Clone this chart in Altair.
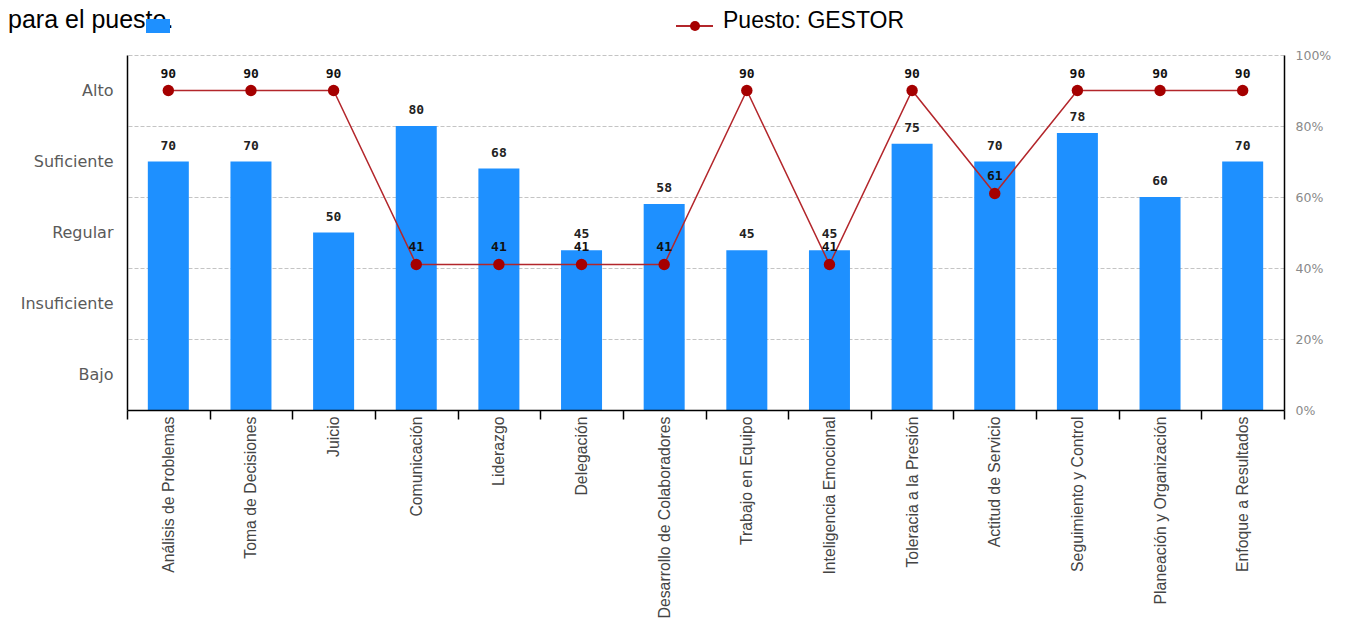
import altair as alt
import pandas as pd

categorias = [
    "Análisis de Problemas", "Toma de Decisiones", "Juicio", "Comunicación",
    "Liderazgo", "Delegación", "Desarrollo de Colaboradores", "Trabajo en Equipo",
    "Inteligencia Emocional", "Toleracia a la Presión", "Actitud de Servicio",
    "Seguimiento y Control", "Planeación y Organización", "Enfoque a Resultados",
]
valores_evaluado = [70, 70, 50, 80, 68, 45, 58, 45, 45, 75, 70, 78, 60, 70]
valores_puesto = [90, 90, 90, 41, 41, 41, 41, 90, 41, 90, 61, 90, 90, 90]

niveles = ["Bajo", "Insuficiente", "Regular", "Suficiente", "Alto"]
niveles_pos = [10, 30, 50, 70, 90]
ticks_pct = [0, 20, 40, 60, 80, 100]
texto_superior = "para el puesto."
leyenda_puesto = "Puesto: GESTOR"

AZUL = "#1E90FF"
ROJO_LINEA = "#B3262B"
ROJO_PUNTO = "#A50000"

df = pd.DataFrame({
    "categoria": categorias,
    "evaluado": valores_evaluado,
    "puesto": valores_puesto,
})

W, H = 1157, 355

xscale = alt.Scale(paddingInner=0, paddingOuter=0)
yscale = alt.Scale(domain=[0, 100], nice=False, zero=True)

label_expr = " : ".join(
    [f"datum.value == {p} ? '{n}'" for p, n in zip(niveles_pos, niveles)]
) + " : ''"

x_axis = alt.Axis(
    title=None, labelAngle=270, labelFont="Liberation Sans", labelFontSize=15.8,
    labelColor="#444444", tickBand="extent", tickSize=9, tickColor="#000000",
    tickWidth=1.5, domainColor="#000000", domainWidth=1.5, labelPadding=-3,
    grid=False, labelLimit=400, zindex=1,
)
left_axis = alt.Axis(
    title=None, orient="left", values=niveles_pos, labelExpr=label_expr,
    ticks=False, grid=False, domainColor="#000000", domainWidth=1.5,
    labelFont="DejaVu Sans", labelFontSize=16, labelColor="#5a5a5a",
    labelPadding=14,
)
right_axis = alt.Axis(
    title=None, orient="right", values=ticks_pct, labelExpr="datum.value + '%'",
    ticks=False, grid=True, gridColor="#c4c4c4", gridDash=[4, 2], gridWidth=1,
    domainColor="#000000", domainWidth=1.5,
    labelFont="DejaVu Sans", labelFontSize=12.5, labelColor="#8a8a8a",
    labelPadding=11,
)

x_enc = alt.X("categoria:N", sort=categorias, scale=xscale, axis=x_axis)

base = alt.Chart(df)

bars = base.mark_bar(color=AZUL, size=41).encode(
    x=x_enc,
    y=alt.Y("evaluado:Q", scale=yscale, axis=left_axis),
)
bar_labels = base.mark_text(
    dy=-9, baseline="bottom", font="DejaVu Sans Mono", fontWeight="bold",
    fontSize=13, color="#222222",
).encode(
    x=x_enc,
    y=alt.Y("evaluado:Q", scale=yscale, axis=None),
    text="evaluado:Q",
)
line = base.mark_line(color=ROJO_LINEA, strokeWidth=1.5).encode(
    x=x_enc,
    y=alt.Y("puesto:Q", scale=yscale, axis=right_axis),
)
points = base.mark_circle(size=130, color=ROJO_PUNTO, opacity=1).encode(
    x=x_enc,
    y=alt.Y("puesto:Q", scale=yscale, axis=None),
)
point_labels = base.mark_text(
    dy=-10, baseline="bottom", font="DejaVu Sans Mono", fontWeight="bold",
    fontSize=13, color="#111111",
).encode(
    x=x_enc,
    y=alt.Y("puesto:Q", scale=yscale, axis=None),
    text="puesto:Q",
)

# Encabezado y leyenda
top_df = pd.DataFrame({"t": [texto_superior]})
leg_df = pd.DataFrame({"t": [leyenda_puesto]})

top_text = alt.Chart(top_df).mark_text(
    align="left", baseline="alphabetic", font="Liberation Sans", fontSize=25,
    color="#000000",
).encode(x=alt.value(-119), y=alt.value(-27), text="t:N")

leg_rect = alt.Chart(top_df).mark_rect(color=AZUL).encode(
    x=alt.value(19), x2=alt.value(43), y=alt.value(-36), y2=alt.value(-22)
)
leg_rule = alt.Chart(leg_df).mark_rule(color=ROJO_LINEA, strokeWidth=2).encode(
    x=alt.value(549), x2=alt.value(586), y=alt.value(-29)
)
leg_dot = alt.Chart(leg_df).mark_circle(size=100, color=ROJO_PUNTO, opacity=1).encode(
    x=alt.value(568), y=alt.value(-29)
)
leg_text = alt.Chart(leg_df).mark_text(
    align="left", baseline="alphabetic", font="Liberation Sans", fontSize=23,
    color="#000000",
).encode(x=alt.value(596), y=alt.value(-27), text="t:N")

chart = alt.layer(
    bars, bar_labels, line, points, point_labels,
    top_text, leg_rect, leg_rule, leg_dot, leg_text,
).resolve_axis(y="independent").properties(
    width=W, height=H,
    autosize=alt.AutoSizeParams(type="none"),
    padding={"left": 119, "top": 47, "right": 52, "bottom": 208},
).configure_view(stroke=None)

chart.save("out.html", embed_options={"renderer": "svg", "actions": False})
